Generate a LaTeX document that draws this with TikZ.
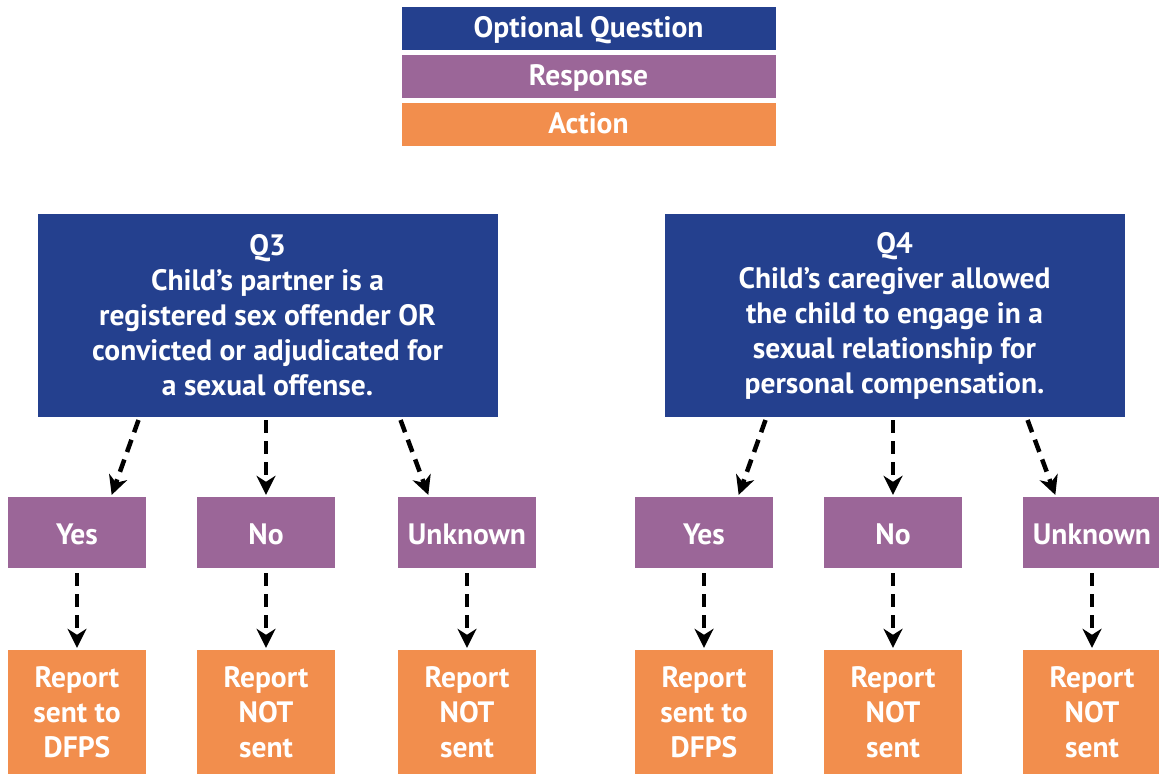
\documentclass[tikz,border=0pt]{standalone}
\usepackage{fontspec}
\setmainfont{PT Sans}
\usetikzlibrary{arrows.meta}

\definecolor{qblue}{HTML}{24408E}
\definecolor{rpurple}{HTML}{9B6698}
\definecolor{aorange}{HTML}{F28E4D}

\tikzset{
    box/.style={text=white, font=\bfseries\fontsize{29.5}{35}\selectfont, align=center, inner sep=0pt},
    legendbox/.style={box, minimum width=374pt, minimum height=43pt, text height=18pt, text depth=0pt},
    question/.style={box, fill=qblue, minimum width=460pt, minimum height=203pt},
    response/.style={box, fill=rpurple, minimum width=138pt, minimum height=71pt, text height=24pt, text depth=0pt},
    action/.style={box, fill=aorange, minimum width=138pt, minimum height=124pt},
    flow/.style={-{Stealth[length=19pt, width=19pt, inset=6pt]}, line width=4.5pt,
        dash pattern=on 13pt off 8pt},
}

\begin{document}
\begin{tikzpicture}[x=1pt, y=-1pt]
    \useasboundingbox (0,0) rectangle (1159,774);

    \node[legendbox, fill=qblue] (lq) at (588.5,28.5) {Optional Question};
    \node[legendbox, fill=rpurple] (lr) at (588.5,76.5) {Response};
    \node[legendbox, fill=aorange] (la) at (588.5,124.5) {Action};

    \node[question] (q3) at (267.5,315.5) {Q3\\Child’s partner is a\\registered sex offender OR\\convicted or adjudicated for\\a sexual offense.};
    \node[question] (q4) at (894.5,315.5) {Q4\\Child’s caregiver allowed\\the child to engage in a\\sexual relationship for\\personal compensation.};

    \node[response] (yes3) at (77,532.5) {Yes};
    \node[response] (no3) at (266,532.5) {No};
    \node[response] (unk3) at (467,532.5) {Unknown};
    \node[response] (yes4) at (704,532.5) {Yes};
    \node[response] (no4) at (893,532.5) {No};
    \node[response] (unk4) at (1092,532.5) {Unknown};

    \node[action] (rep3y) at (77,712) {Report\\sent to\\DFPS};
    \node[action] (rep3n) at (266,712) {Report\\NOT\\sent};
    \node[action] (rep3u) at (467,712) {Report\\NOT\\sent};
    \node[action] (rep4y) at (704,712) {Report\\sent to\\DFPS};
    \node[action] (rep4n) at (893,712) {Report\\NOT\\sent};
    \node[action] (rep4u) at (1092,712) {Report\\NOT\\sent};

    \draw[flow, shorten <=3pt, shorten >=2pt] ([xshift=-128pt]q3.south) -- ([xshift=34pt]yes3.north);
    \draw[flow, shorten <=3pt, shorten >=2pt] (q3.south -| no3.north) -- (no3.north);
    \draw[flow, shorten <=3pt, shorten >=2pt] ([xshift=132pt]q3.south) -- ([xshift=-38pt]unk3.north);
    \draw[flow, shorten <=3pt, shorten >=2pt] ([xshift=-128pt]q4.south) -- ([xshift=34pt]yes4.north);
    \draw[flow, shorten <=3pt, shorten >=2pt] (q4.south -| no4.north) -- (no4.north);
    \draw[flow, shorten <=3pt, shorten >=2pt] ([xshift=132pt]q4.south) -- ([xshift=-36pt]unk4.north);

    \draw[flow, shorten <=5pt, shorten >=2pt] (yes3.south) -- (rep3y.north);
    \draw[flow, shorten <=5pt, shorten >=2pt] (no3.south) -- (rep3n.north);
    \draw[flow, shorten <=5pt, shorten >=2pt] (unk3.south) -- (rep3u.north);
    \draw[flow, shorten <=5pt, shorten >=2pt] (yes4.south) -- (rep4y.north);
    \draw[flow, shorten <=5pt, shorten >=2pt] (no4.south) -- (rep4n.north);
    \draw[flow, shorten <=5pt, shorten >=2pt] (unk4.south) -- (rep4u.north);
\end{tikzpicture}
\end{document}
